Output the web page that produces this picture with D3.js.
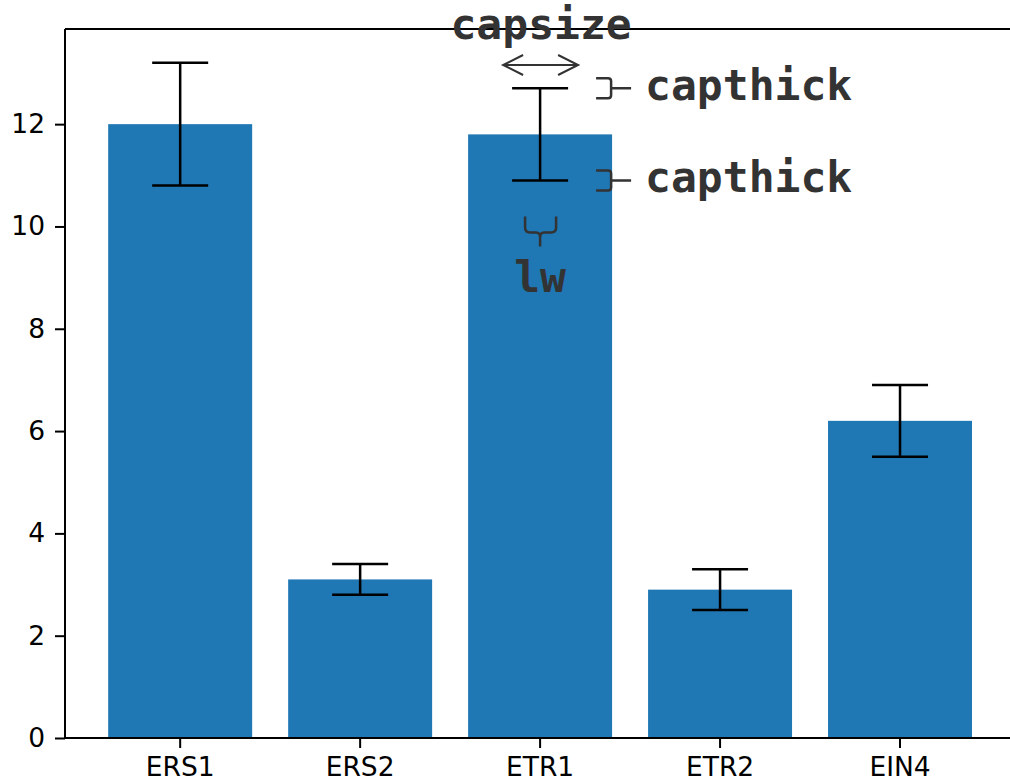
<!DOCTYPE html>
<html>
<head>
<meta charset="utf-8">
<script src="https://cdn.jsdelivr.net/npm/d3@7"></script>
<style>
  html, body { margin: 0; padding: 0; background: #ffffff; }
  svg { display: block; }
</style>
</head>
<body>
<div id="chart"></div>
<script>
// Receptor names, bar heights and symmetric error half-widths
const categories = ["ERS1", "ERS2", "ETR1", "ETR2", "EIN4"];
const values = [12.0, 3.1, 11.8, 2.9, 6.2];
const errors = [1.2, 0.3, 0.9, 0.4, 0.7];
const yTicks = [0, 2, 4, 6, 8, 10, 12];

const W = 1010, H = 782;
const plotLeft = 65, plotTop = 29, plotBottom = 738, plotRight = 1015.2;

const svg = d3.select("#chart").append("svg")
  .attr("width", W).attr("height", H);

const x = d3.scaleBand()
  .domain(categories)
  .range([plotLeft, plotRight])
  .paddingInner(0.2)
  .paddingOuter(0.24);

const yMax = d3.max(values.map((v, i) => v + errors[i])) * 1.05;
const y = d3.scaleLinear().domain([0, yMax]).range([plotBottom, plotTop]);

const data = categories.map((c, i) => ({ c, v: values[i], e: errors[i] }));

// Bars
svg.append("g").selectAll("rect").data(data).join("rect")
  .attr("x", d => x(d.c))
  .attr("y", d => y(d.v))
  .attr("width", x.bandwidth())
  .attr("height", d => y(0) - y(d.v))
  .attr("fill", "#1f77b4");

// Error bars with caps
const capHalf = 28;
const eb = svg.append("g").attr("stroke", "#000").attr("stroke-width", 2.5).attr("fill", "none");
data.forEach(d => {
  const cx = x(d.c) + x.bandwidth() / 2;
  eb.append("line").attr("x1", cx).attr("x2", cx).attr("y1", y(d.v - d.e)).attr("y2", y(d.v + d.e));
  [d.v - d.e, d.v + d.e].forEach(t => {
    eb.append("line").attr("x1", cx - capHalf).attr("x2", cx + capHalf).attr("y1", y(t)).attr("y2", y(t));
  });
});

// Axes
const xAxis = svg.append("g")
  .attr("transform", `translate(0,${plotBottom})`)
  .call(d3.axisBottom(x).tickSizeInner(10).tickSizeOuter(0).tickPadding(9));
const yAxis = svg.append("g")
  .attr("transform", `translate(${plotLeft},0)`)
  .call(d3.axisLeft(y).tickValues(yTicks).tickFormat(d3.format("d")).tickSizeInner(10).tickSizeOuter(0).tickPadding(10));

[xAxis, yAxis].forEach(a => {
  a.select(".domain").remove();
  a.selectAll(".tick line").attr("stroke", "#000").attr("stroke-width", 2);
  a.selectAll(".tick text")
    .attr("fill", "#000")
    .style("font-family", "'DejaVu Sans', sans-serif")
    .style("font-size", "26.5px");
});

// Spines
const spines = svg.append("g").attr("stroke", "#000").attr("stroke-width", 2).attr("fill", "none");
spines.append("line").attr("x1", plotLeft).attr("x2", plotLeft).attr("y1", plotTop).attr("y2", plotBottom);
spines.append("line").attr("x1", plotLeft).attr("x2", plotRight).attr("y1", plotBottom).attr("y2", plotBottom);
spines.append("line").attr("x1", plotLeft).attr("x2", plotRight).attr("y1", plotTop).attr("y2", plotTop);
spines.append("line").attr("x1", plotRight).attr("x2", plotRight).attr("y1", plotTop).attr("y2", plotBottom);

// Annotations explaining the error-bar styling on the ETR1 bar
const ink = "#333333";
const ann = svg.append("g");
const k = categories.indexOf("ETR1");
const ax = x(categories[k]) + x.bandwidth() / 2;
const capTop = y(values[k] + errors[k]);
const capBot = y(values[k] - errors[k]);

const textStyle = sel => sel
  .attr("fill", ink)
  .style("font-family", "'DejaVu Sans Mono', monospace")
  .style("font-weight", "bold")
  .style("font-size", "43px");

ann.append("text").attr("x", ax + 1).attr("y", 39).attr("text-anchor", "middle").text("capsize").call(textStyle);

// double-headed arrow spanning the cap width
const ay = 65, x0 = ax - 37, x1 = ax + 38;
const arrow = d3.path();
arrow.moveTo(x0, ay); arrow.lineTo(x1, ay);
arrow.moveTo(x0 + 20, ay - 10); arrow.lineTo(x0, ay); arrow.lineTo(x0 + 20, ay + 10);
arrow.moveTo(x1 - 20, ay - 10); arrow.lineTo(x1, ay); arrow.lineTo(x1 - 20, ay + 10);
ann.append("path").attr("d", arrow.toString()).attr("fill", "none").attr("stroke", ink).attr("stroke-width", 2);

// brackets pointing at each cap
[capTop, capBot].forEach(cy => {
  const bx = ax + 56, bt = cy - 10, bb = cy + 10, vx = bx + 15;
  const p = d3.path();
  p.moveTo(bx, bt); p.lineTo(vx - 3, bt); p.quadraticCurveTo(vx, bt, vx, bt + 3);
  p.lineTo(vx, bb - 3); p.quadraticCurveTo(vx, bb, vx - 3, bb); p.lineTo(bx, bb);
  p.moveTo(vx, cy); p.lineTo(vx + 20, cy);
  ann.append("path").attr("d", p.toString()).attr("fill", "none").attr("stroke", ink).attr("stroke-width", 2.5);
  ann.append("text").attr("x", ax + 105).attr("y", cy + 12).text("capthick").call(textStyle);
});

// curly brace under the error line with its label
const lt = capBot + 36;
const br = d3.path();
br.moveTo(ax - 15, lt); br.lineTo(ax - 15, lt + 11);
br.quadraticCurveTo(ax - 15, lt + 16, ax - 10, lt + 16);
br.lineTo(ax - 4, lt + 16); br.quadraticCurveTo(ax, lt + 16, ax, lt + 21); br.lineTo(ax, lt + 30);
br.moveTo(ax + 16, lt); br.lineTo(ax + 16, lt + 11);
br.quadraticCurveTo(ax + 16, lt + 16, ax + 11, lt + 16);
br.lineTo(ax + 4, lt + 16); br.quadraticCurveTo(ax, lt + 16, ax, lt + 21);
ann.append("path").attr("d", br.toString()).attr("fill", "none").attr("stroke", ink).attr("stroke-width", 2.5);
ann.append("text").attr("x", ax).attr("y", lt + 76).attr("text-anchor", "middle").text("lw").call(textStyle);
</script>
</body>
</html>
